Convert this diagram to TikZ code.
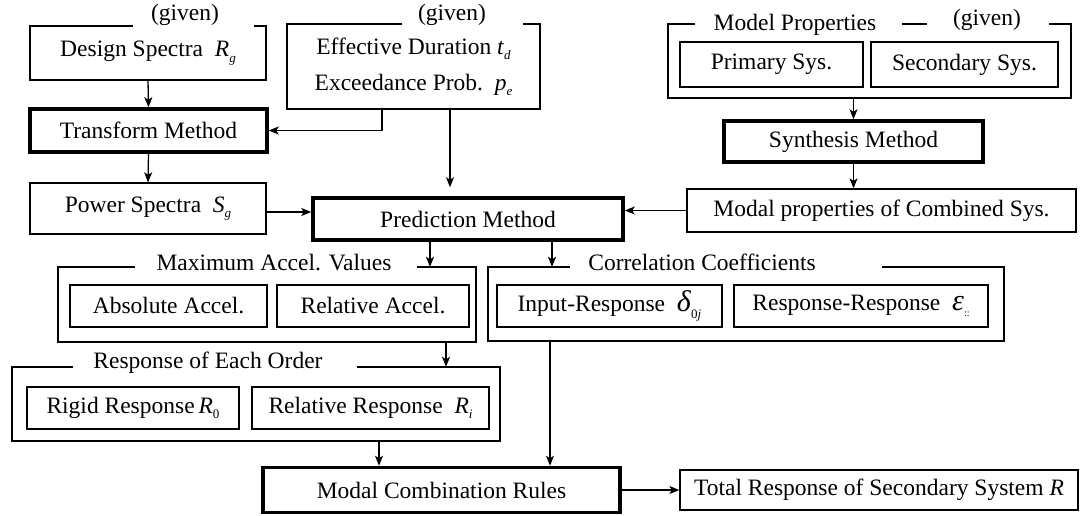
\documentclass[tikz,border=0pt]{standalone}
\usepackage{fontspec}
\setmainfont{Liberation Serif}
\usetikzlibrary{arrows.meta}
\newcommand\mysub[2]{\textit{#1}\raisebox{-0.5ex}{\fontsize{13}{13}\selectfont\textit{#2}}}
\newcommand\mysubup[2]{\textit{#1}\raisebox{-0.5ex}{\fontsize{13}{13}\selectfont #2}}
\begin{document}
\begin{tikzpicture}[x=1pt,y=-1pt,
  every node/.style={font=\fontsize{23.5}{28}\selectfont, inner sep=0pt},
  ln/.style={line width=1.3pt},
  bx/.style={draw, line width=1.3pt},
  tbx/.style={draw, line width=3.5pt},
  frm/.style={inner sep=0pt},
  arr/.style={line width=1.3pt, -{Stealth[length=10pt,width=8pt,inset=2.5pt]}},
  lab/.style={anchor=base}]
\useasboundingbox (0,0) rectangle (1088,515);

% top row
\node[frm, minimum width=236, minimum height=54] (design) at (148,53) {Design Spectra\ \ \mysub{R}{g}};
\draw[ln] (133,26) -- (30,26) -- (30,80) -- (266,80) -- (266,26) -- (254,26);
\node[lab] (g1) at (185,20) {(given)};

\node[frm, minimum width=253, minimum height=85, align=center, font=\fontsize{23.5}{36}\selectfont] (eff) at (413.5,66.5) {Effective Duration \mysub{t}{d}\\Exceedance Prob.\ \ \mysub{p}{e}};
\draw[ln] (402,24) -- (287,24) -- (287,109) -- (540,109) -- (540,24) -- (523,24);
\node[lab] (g2) at (452,20) {(given)};

\node[frm, minimum width=403, minimum height=74] (model) at (869.5,61) {};
\draw[ln] (695,24) -- (668,24) -- (668,98) -- (1071,98) -- (1071,24) -- (1049,24);
\draw[ln] (902,24) -- (927,24);
\node[lab] (mpl) at (795,30) {Model Properties};
\node[lab] (g3) at (987,25) {(given)};
\node[bx, minimum width=183, minimum height=45] (primary) at (771.5,64.5) {Primary Sys.};
\node[bx, minimum width=187, minimum height=45] (secondary) at (964.5,64.5) {Secondary Sys.};

% second row
\node[tbx, minimum width=237, minimum height=43] (transform) at (148.5,130.5) {Transform Method};
\node[tbx, minimum width=259, minimum height=41] (synth) at (853.5,141.5) {Synthesis Method};

% third row
\node[bx, minimum width=236, minimum height=51] (power) at (148,208.5) {Power Spectra\ \ \mysub{S}{g}};
\node[tbx, minimum width=310, minimum height=42] (pred) at (468,219) {Prediction Method};
\node[bx, minimum width=389, minimum height=43] (modal) at (881.5,210.5) {Modal properties of Combined Sys.};

% fourth row
\node[frm, minimum width=418, minimum height=75] (maxacc) at (267,304.5) {};
\draw[ln] (135,267) -- (58,267) -- (58,342) -- (476,342) -- (476,267) -- (417,267);
\node[lab] (mal) at (274,270) {Maximum Accel. Values};
\node[bx, minimum width=197, minimum height=42] (abs) at (168.5,306) {Absolute Accel.};
\node[bx, minimum width=192, minimum height=42] (rel) at (373,306) {Relative Accel.};

\node[frm, minimum width=516, minimum height=74] (corr) at (746,304) {};
\draw[ln] (570,267) -- (488,267) -- (488,341) -- (1004,341) -- (1004,267) -- (882,267);
\node[lab] (ccl) at (702,270) {Correlation Coefficients};
\node[bx, minimum width=225, minimum height=42] (ir) at (609.5,306) {Input-Response\ \ {\fontsize{30}{30}\selectfont\textit{δ}}\raisebox{-0.6ex}{\fontsize{13}{13}\selectfont 0\textit{j}}};
\node[bx, minimum width=254, minimum height=42] (rr) at (861,306) {Response-Response\ \ {\fontsize{30}{30}\selectfont\textit{ε}}\raisebox{-0.5ex}{\fontsize{10}{10}\selectfont ::}};

% fifth row
\node[frm, minimum width=488, minimum height=74] (resp) at (256,404) {};
\draw[ln] (73,367) -- (12,367) -- (12,441) -- (500,441) -- (500,367) -- (357,367);
\node[lab] (rel2) at (208,368) {Response of Each Order};
\node[bx, minimum width=212, minimum height=42] (rigid) at (133,408) {Rigid Response\,\mysubup{R}{0}};
\node[bx, minimum width=237, minimum height=42] (relr) at (370.5,408) {Relative Response\ \ \mysub{R}{i}};

% bottom row
\node[tbx, minimum width=357, minimum height=45] (mcomb) at (441.5,490) {Modal Combination Rules};
\node[bx, minimum width=398, minimum height=40] (total) at (879,490) {Total Response of Secondary System \textit{R}};

% connectors
\draw[arr] (design.south) -- (transform.north);
\coordinate (e1) at ([xshift=-31.5pt]eff.south);
\draw[arr] (e1) |- (transform.east);
\draw[arr] (transform.south) -- (power.north);
\coordinate (pw) at ([yshift=-3.5pt]power.east);
\draw[arr] (pw) -- (pw -| pred.west);
\coordinate (e2) at ([xshift=36.5pt]eff.south);
\coordinate (e2t) at ([yshift=9pt]e2 |- pred.north);
\draw[arr] (e2) -- (e2t);
\draw[arr] (modal.west) -- (modal.west -| pred.east);
\draw[arr] (synth.north |- model.south) -- (synth.north);
\draw[arr] (synth.south) -- (synth.south |- modal.north);
\coordinate (p1) at ([xshift=-38pt]pred.south);
\draw[arr] (p1) -- (p1 |- maxacc.north);
\coordinate (p2) at ([xshift=84pt]pred.south);
\draw[arr] (p2) -- (p2 |- corr.north);
\coordinate (m1) at ([xshift=179pt]maxacc.south);
\draw[arr] (m1) -- (m1 |- resp.north);
\coordinate (r1) at ([xshift=123pt]resp.south);
\draw[arr] (r1) -- (r1 |- mcomb.north);
\coordinate (c1) at ([xshift=-196pt]corr.south);
\draw[arr] (c1) -- (c1 |- mcomb.north);
\draw[arr] (mcomb.east) -- (mcomb.east -| total.west);
\end{tikzpicture}
\end{document}
